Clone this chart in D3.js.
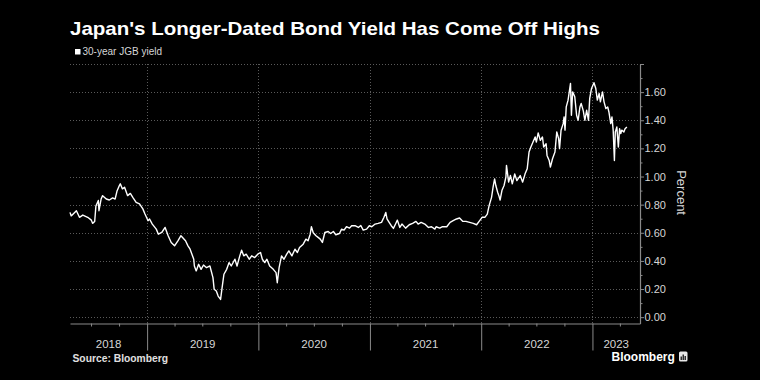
<!DOCTYPE html>
<html>
<head>
<meta charset="utf-8">
<script src="https://cdn.jsdelivr.net/npm/d3@7"></script>
<style>
  html, body { margin: 0; padding: 0; background: #000; }
  svg { display: block; }
  text { font-family: "Liberation Sans", Arial, sans-serif; }
</style>
</head>
<body>
<svg id="chart" width="760" height="380"></svg>
<script>
// ---------------- data ----------------
const title = "Japan's Longer-Dated Bond Yield Has Come Off Highs";
const seriesName = "30-year JGB yield";
const sourceText = "Source: Bloomberg";
const yAxisTitle = "Percent";

const dates = [
"2018-04-23","2018-04-27","2018-05-14","2018-05-24","2018-06-04","2018-06-20","2018-07-02","2018-07-06","2018-07-13","2018-07-17",
"2018-07-25","2018-07-27","2018-08-03","2018-08-08","2018-08-20","2018-08-30","2018-09-10","2018-09-18","2018-09-24","2018-10-02",
"2018-10-05","2018-10-12","2018-10-19","2018-10-29","2018-11-07","2018-11-15","2018-11-26","2018-12-07","2018-12-18","2018-12-25",
"2019-01-04","2019-01-09","2019-01-18","2019-01-31","2019-02-07","2019-02-18","2019-03-01","2019-03-11","2019-03-21","2019-04-01",
"2019-04-12","2019-04-22","2019-05-07","2019-05-15","2019-05-22","2019-05-28","2019-06-03","2019-06-05","2019-06-11","2019-06-19",
"2019-06-27","2019-07-05","2019-07-15","2019-07-26","2019-08-05","2019-08-09","2019-08-16","2019-08-22","2019-08-30","2019-09-04",
"2019-09-10","2019-09-19","2019-09-27","2019-10-04","2019-10-16","2019-10-23","2019-11-01","2019-11-07","2019-11-14","2019-11-22",
"2019-12-02","2019-12-10","2019-12-20","2019-12-30","2020-01-08","2020-01-14","2020-01-22","2020-01-29","2020-02-07","2020-02-19",
"2020-02-28","2020-03-03","2020-03-09","2020-03-17","2020-03-25","2020-04-03","2020-04-10","2020-04-20","2020-04-30","2020-05-08",
"2020-05-15","2020-05-27","2020-06-05","2020-06-12","2020-06-19","2020-06-23","2020-06-29","2020-07-08","2020-07-15","2020-07-22",
"2020-07-29","2020-08-06","2020-08-17","2020-08-25","2020-09-03","2020-09-11","2020-09-23","2020-09-30","2020-10-08","2020-10-16",
"2020-10-26","2020-11-02","2020-11-13","2020-11-24","2020-12-02","2020-12-10","2020-12-21","2020-12-30","2021-01-07","2021-01-18",
"2021-01-28","2021-02-08","2021-02-16","2021-02-22","2021-02-26","2021-03-05","2021-03-12","2021-03-19","2021-03-26","2021-04-01",
"2021-04-09","2021-04-16","2021-04-28","2021-05-10","2021-05-21","2021-06-01","2021-06-08","2021-06-18","2021-06-30","2021-07-12",
"2021-07-22","2021-08-02","2021-08-06","2021-08-18","2021-08-27","2021-09-10","2021-09-21","2021-10-01","2021-10-12","2021-10-22",
"2021-11-02","2021-11-12","2021-11-24","2021-12-06","2021-12-17","2021-12-27","2022-01-04","2022-01-13","2022-01-21","2022-01-27",
"2022-02-04","2022-02-09","2022-02-14","2022-02-18","2022-02-24","2022-02-28","2022-03-04","2022-03-10","2022-03-17","2022-03-23",
"2022-03-25","2022-04-01","2022-04-07","2022-04-13","2022-04-21","2022-04-28","2022-05-09","2022-05-17","2022-05-25","2022-06-01",
"2022-06-07","2022-06-13","2022-06-20","2022-06-27","2022-07-01","2022-07-07","2022-07-14","2022-07-21","2022-07-25","2022-08-02",
"2022-08-05","2022-08-12","2022-08-16","2022-08-23","2022-08-31","2022-09-06","2022-09-12","2022-09-15","2022-09-20","2022-09-27",
"2022-09-30","2022-10-03","2022-10-07","2022-10-13","2022-10-21","2022-10-24","2022-10-28","2022-11-04","2022-11-10","2022-11-15",
"2022-11-21","2022-11-25","2022-12-02","2022-12-07","2022-12-13","2022-12-19","2022-12-23","2022-12-29","2023-01-06","2023-01-12",
"2023-01-17","2023-01-23","2023-01-27","2023-02-03","2023-02-08","2023-02-14","2023-02-20","2023-02-24","2023-03-02","2023-03-06",
"2023-03-10","2023-03-14","2023-03-17","2023-03-22","2023-03-27","2023-03-31","2023-04-04","2023-04-07","2023-04-14","2023-04-18",
"2023-04-24"
];

const yields = [
0.745,0.720,0.757,0.710,0.726,0.710,0.690,0.667,0.680,0.790,
0.830,0.757,0.840,0.864,0.840,0.833,0.848,0.840,0.895,0.936,
0.948,0.912,0.924,0.864,0.880,0.852,0.816,0.805,0.770,0.733,
0.686,0.698,0.662,0.626,0.590,0.602,0.638,0.579,0.531,0.507,
0.543,0.579,0.543,0.507,0.483,0.448,0.412,0.364,0.329,0.376,
0.340,0.371,0.352,0.364,0.281,0.198,0.186,0.150,0.126,0.210,
0.305,0.340,0.388,0.364,0.412,0.364,0.436,0.476,0.436,0.448,
0.412,0.436,0.424,0.448,0.460,0.412,0.388,0.412,0.364,0.340,
0.317,0.245,0.352,0.436,0.412,0.448,0.471,0.436,0.483,0.460,
0.495,0.519,0.555,0.543,0.590,0.643,0.600,0.579,0.567,0.555,
0.531,0.602,0.609,0.595,0.609,0.586,0.595,0.626,0.619,0.643,
0.633,0.650,0.650,0.638,0.652,0.619,0.626,0.650,0.643,0.662,
0.667,0.674,0.710,0.745,0.698,0.674,0.650,0.631,0.662,0.690,
0.638,0.662,0.633,0.657,0.667,0.681,0.662,0.674,0.662,0.638,
0.643,0.626,0.643,0.633,0.643,0.643,0.674,0.686,0.698,0.705,
0.681,0.681,0.674,0.667,0.657,0.686,0.710,0.710,0.733,0.793,
0.852,0.924,0.983,0.936,0.888,0.864,0.833,0.900,0.936,0.995,
1.079,0.960,1.007,0.948,1.019,0.971,1.007,0.960,1.019,1.055,
1.174,1.210,1.245,1.281,1.245,1.310,1.257,1.281,1.210,1.233,
1.150,1.114,1.067,1.126,1.174,1.317,1.269,1.198,1.329,1.376,
1.424,1.330,1.495,1.543,1.662,1.436,1.602,1.567,1.436,1.400,
1.495,1.519,1.467,1.400,1.471,1.400,1.555,1.626,1.667,1.626,
1.543,1.590,1.531,1.602,1.531,1.483,1.495,1.459,1.376,1.424,
1.330,1.114,1.317,1.352,1.210,1.340,1.305,1.330,1.317,1.340,
1.352
];

const yTickValues = [0, 0.2, 0.4, 0.6, 0.8, 1.0, 1.2, 1.4, 1.6, 1.8];
const yLabelValues = [0, 0.2, 0.4, 0.6, 0.8, 1.0, 1.2, 1.4, 1.6];
const yMinorValues = [0.1, 0.3, 0.5, 0.7, 0.9, 1.1, 1.3, 1.5, 1.7];
const yearLabels = ["2018", "2019", "2020", "2021", "2022", "2023"];
const xDomain = ["2018-04-23", "2023-06-06"];
const yDomain = [-0.045, 1.8];

// ---------------- chart ----------------
const parse = d3.timeParse("%Y-%m-%d");
const data = dates.map((d, i) => ({ date: parse(d), value: yields[i] }));

const W = 760, H = 380;
const plot = { left: 70, right: 640, top: 64, bottom: 323.5 };

const svg = d3.select("#chart");
svg.append("rect").attr("width", W).attr("height", H).attr("fill", "#000");

const x = d3.scaleTime().domain(xDomain.map(parse)).range([plot.left, plot.right]);
const y = d3.scaleLinear().domain(yDomain).range([plot.bottom, plot.top]);

const gridColor = "#5a5a5a";
const axisColor = "#8a8a8a";
const labelColor = "#d6d6d6";

// horizontal grid
svg.append("g").selectAll("line").data(yTickValues).join("line")
  .attr("x1", plot.left).attr("x2", plot.right)
  .attr("y1", d => Math.round(y(d)) + 0.5).attr("y2", d => Math.round(y(d)) + 0.5)
  .attr("stroke", gridColor).attr("stroke-width", 1).attr("stroke-dasharray", "1,2");

// year boundaries
const yearStarts = yearLabels.slice(1).map(yv => new Date(+yv, 0, 1));
svg.append("g").selectAll("line").data(yearStarts).join("line")
  .attr("x1", d => Math.round(x(d)) + 0.5).attr("x2", d => Math.round(x(d)) + 0.5)
  .attr("y1", plot.top).attr("y2", plot.bottom)
  .attr("stroke", gridColor).attr("stroke-width", 1).attr("stroke-dasharray", "1,2");

// x axis: year ticks (long) and quarter ticks (short)
const quarterTicks = d3.timeMonth.every(3).range(x.domain()[0], x.domain()[1])
  .filter(d => d.getMonth() !== 0);
const xMinor = svg.append("g").attr("transform", `translate(0,${plot.bottom})`)
  .call(d3.axisBottom(x).tickValues(quarterTicks).tickSize(3).tickSizeOuter(0).tickFormat(""));
xMinor.select(".domain").attr("stroke", axisColor).attr("stroke-width", 1.2);
xMinor.selectAll(".tick line").attr("stroke", axisColor);

const xMajor = svg.append("g").attr("transform", `translate(0,${plot.bottom})`)
  .call(d3.axisBottom(x).tickValues(yearStarts).tickSize(27).tickSizeOuter(0).tickFormat(""));
xMajor.select(".domain").remove();
xMajor.selectAll(".tick line").attr("stroke", axisColor);

// year labels centred on visible span
const bounds = [x.domain()[0], ...yearStarts, x.domain()[1]];
svg.append("g").selectAll("text").data(yearLabels).join("text")
  .attr("x", (d, i) => (x(bounds[i]) + x(bounds[i + 1])) / 2)
  .attr("y", 347.5)
  .attr("text-anchor", "middle")
  .attr("fill", labelColor)
  .attr("font-size", "11.5px")
  .text(d => d);

// right y axis
const yAxisG = svg.append("g").attr("transform", `translate(${plot.right},0)`)
  .call(d3.axisRight(y).tickValues(yTickValues).tickSize(4).tickSizeOuter(0)
    .tickFormat(d => yLabelValues.includes(d) ? d3.format(".2f")(d) : ""));
yAxisG.select(".domain").attr("stroke", axisColor).attr("stroke-width", 1.2);
yAxisG.selectAll(".tick line").attr("stroke", axisColor);
yAxisG.selectAll(".tick text").attr("fill", labelColor).attr("font-size", "11px")
  .attr("font-family", "'Liberation Sans', Arial, sans-serif").attr("x", 4.5);

const yMinorG = svg.append("g").attr("transform", `translate(${plot.right},0)`)
  .call(d3.axisRight(y).tickValues(yMinorValues).tickSize(2.5).tickSizeOuter(0).tickFormat(""));
yMinorG.select(".domain").remove();
yMinorG.selectAll(".tick line").attr("stroke", axisColor);

svg.append("text")
  .attr("transform", `translate(677,${(y(1.8) + y(0)) / 2 + 2}) rotate(90)`)
  .attr("text-anchor", "middle")
  .attr("fill", labelColor)
  .attr("font-size", "13px")
  .text(yAxisTitle);

// line
const line = d3.line().x(d => x(d.date)).y(d => y(d.value)).curve(d3.curveLinear);
svg.append("path").datum(data)
  .attr("d", line)
  .attr("fill", "none")
  .attr("stroke", "#ffffff")
  .attr("stroke-width", 1.4)
  .attr("stroke-linejoin", "round");

// title
const t = svg.append("text")
  .attr("x", 70).attr("y", 35)
  .attr("fill", "#ffffff")
  .attr("font-size", "19px")
  .attr("font-weight", "bold")
  .text(title);
const tl = t.node().getComputedTextLength();
if (Math.abs(tl - 530) > 3) t.attr("textLength", 530).attr("lengthAdjust", "spacingAndGlyphs");

// legend
svg.append("rect").attr("x", 75).attr("y", 49).attr("width", 5.5).attr("height", 5.5).attr("fill", "#fff");
svg.append("text").attr("x", 82.5).attr("y", 55)
  .attr("fill", labelColor).attr("font-size", "10px").text(seriesName);

// footer
svg.append("text").attr("x", 72.5).attr("y", 361.5)
  .attr("fill", "#e0e0e0").attr("font-size", "10.3px").attr("font-weight", "bold")
  .text(sourceText);

svg.append("text").attr("x", 611.5).attr("y", 361)
  .attr("fill", "#ffffff").attr("font-size", "12px").attr("font-weight", "bold")
  .text("Bloomberg");
const logo = svg.append("g").attr("transform", "translate(679,351.5)");
logo.append("rect").attr("width", 8.5).attr("height", 10).attr("rx", 1.5).attr("fill", "#e8e8e8");
[[1.6, 5, 1.2, 3.5], [3.6, 3, 1.2, 5.5], [5.6, 4.5, 1.2, 4]].forEach(b => {
  logo.append("rect").attr("x", b[0]).attr("y", b[1]).attr("width", b[2]).attr("height", b[3]).attr("fill", "#000");
});
</script>
</body>
</html>
